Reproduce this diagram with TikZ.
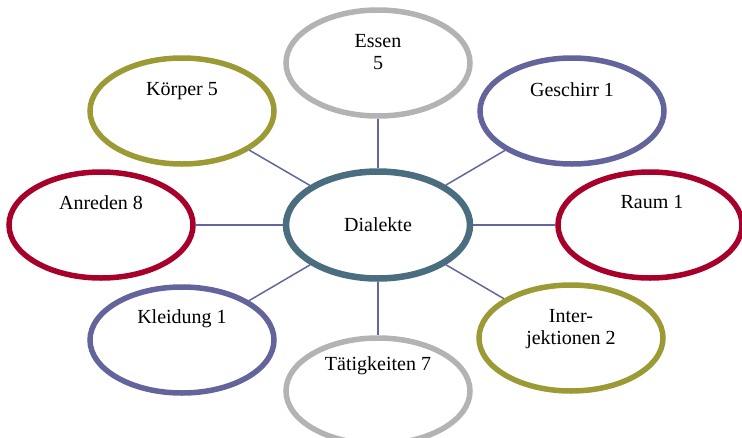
\documentclass[tikz,border=0pt]{standalone}
\usepackage{fontspec}
\setmainfont{Liberation Serif}
\usetikzlibrary{shapes.geometric}
\definecolor{centreblue}{HTML}{4A6E80}
\definecolor{greyring}{HTML}{B3B3B3}
\definecolor{olivering}{HTML}{9C9A34}
\definecolor{purplering}{HTML}{63649B}
\definecolor{redring}{HTML}{A6002B}
\definecolor{linkcol}{HTML}{6466A0}
\tikzset{
  ring/.style={ellipse, draw=#1, fill=white, line width=5.5pt, minimum width=184pt, minimum height=106pt, inner sep=0pt},
  hub/.style={ellipse, draw=centreblue, fill=white, line width=6.5pt, minimum width=184pt, minimum height=107pt, inner sep=0pt, font=\fontsize{20}{23}\selectfont},
  lbl/.style={anchor=north, align=center, inner sep=0pt, font=\fontsize{20}{22}\selectfont},
  link/.style={draw=linkcol, line width=1.5pt}
}
\begin{document}
\begin{tikzpicture}[x=1pt, y=-1pt]
\useasboundingbox (0,0) rectangle (742,437);
\node[hub] (d) at (378,225) {Dialekte};
\node[ring=greyring] (e) at (378,63) {};
\node[ring=olivering] (k) at (182,111) {};
\node[ring=purplering] (g) at (572,111) {};
\node[ring=redring] (a) at (101,225) {};
\node[ring=redring] (r) at (650,225) {};
\node[ring=purplering] (kl) at (182,340) {};
\node[ring=olivering] (i) at (571,338) {};
\node[ring=greyring] (t) at (378,391) {};
\foreach \n in {e,k,g,a,r,kl,i,t} \draw[link] (d) -- (\n);
\node[lbl] (te) at (378,34) {Essen\\5};
\node[lbl] (tk) at (182,82) {Körper 5};
\node[lbl] (tg) at (572,82) {Geschirr 1};
\node[lbl] (ta) at (101,195) {Anreden 8};
\node[lbl] (tr) at (652,195) {Raum 1};
\node[lbl] (tkl) at (182,309) {Kleidung 1};
\node[lbl] (ti) at (571,309) {Inter-\\jektionen 2};
\node[lbl] (tt) at (378,356) {Tätigkeiten 7};
\end{tikzpicture}
\end{document}
